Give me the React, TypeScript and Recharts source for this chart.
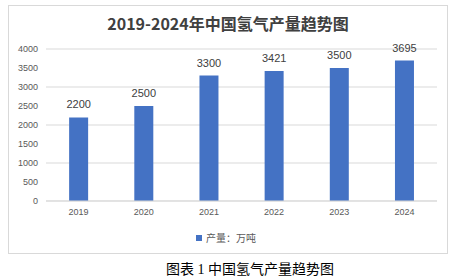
import React from "react";
import { BarChart, Bar, XAxis, YAxis, CartesianGrid, LabelList } from "recharts";

const years = ["2019", "2020", "2021", "2022", "2023", "2024"];
const production = [2200, 2500, 3300, 3421, 3500, 3695];
const yTicks = [0, 500, 1000, 1500, 2000, 2500, 3000, 3500, 4000];
const seriesName = "产量：万吨";
const title = "2019-2024年中国氢气产量趋势图";
const caption = "图表 1 中国氢气产量趋势图";

const data = years.map((y, i) => ({ year: y, value: production[i] }));

const sans = '"Liberation Sans", Arial, "Noto Sans CJK SC", sans-serif';

export default function App() {
  return (
    <div style={{ position: "absolute", left: 0, top: 0, width: 456, height: 279, background: "#fff" }}>
      <div
        style={{
          position: "absolute",
          left: 8,
          top: 5,
          width: 440,
          height: 249,
          border: "1px solid #d9d9d9",
          boxSizing: "border-box",
        }}
      />
      <div
        style={{
          position: "absolute",
          left: 0,
          top: 12,
          width: 456,
          textAlign: "center",
          fontFamily: '"Noto Sans CJK SC", sans-serif',
          fontWeight: "bold",
          fontSize: 16,
          lineHeight: "22px",
          color: "#404040",
        }}
      >
        {title}
      </div>
      <div style={{ position: "absolute", left: 0, top: 0 }}>
        <BarChart width={456} height={279} data={data} margin={{ top: 49, right: 19, left: 8, bottom: 48 }} barCategoryGap="35.5%">
          <CartesianGrid vertical={false} stroke="#d9d9d9" />
          <XAxis
            dataKey="year"
            height={30}
            tickLine={false}
            tickSize={0}
            tickMargin={8}
            axisLine={{ stroke: "#d9d9d9" }}
            tick={{ fill: "#595959", fontSize: 9, fontFamily: sans }}
          />
          <YAxis
            width={38}
            domain={[0, 4000]}
            ticks={yTicks}
            axisLine={false}
            tickLine={false}
            tickSize={0}
            tickMargin={8}
            tick={{ fill: "#595959", fontSize: 9, fontFamily: sans }}
          />
          <Bar dataKey="value" name={seriesName} fill="#4472C4" isAnimationActive={false}>
            <LabelList dataKey="value" position="top" offset={9} fill="#404040" fontSize={11} fontFamily={sans} />
          </Bar>
        </BarChart>
      </div>
      <div
        style={{
          position: "absolute",
          left: 0,
          top: 231,
          width: 456,
          display: "flex",
          justifyContent: "center",
          alignItems: "center",
          fontFamily: '"Noto Sans CJK SC", sans-serif',
          fontSize: 10,
          lineHeight: "14px",
          color: "#595959",
        }}
      >
        <span style={{ display: "inline-block", width: 6, height: 6, background: "#4472C4", marginRight: 4, marginLeft: -4 }} />
        <span>{seriesName}</span>
      </div>
      <div
        style={{
          position: "absolute",
          left: 166,
          top: 261,
          whiteSpace: "nowrap",
          fontFamily: '"Liberation Serif", "Noto Sans CJK SC", serif',
          fontSize: 14,
          lineHeight: "18px",
          color: "#000",
        }}
      >
        {caption}
      </div>
    </div>
  );
}
